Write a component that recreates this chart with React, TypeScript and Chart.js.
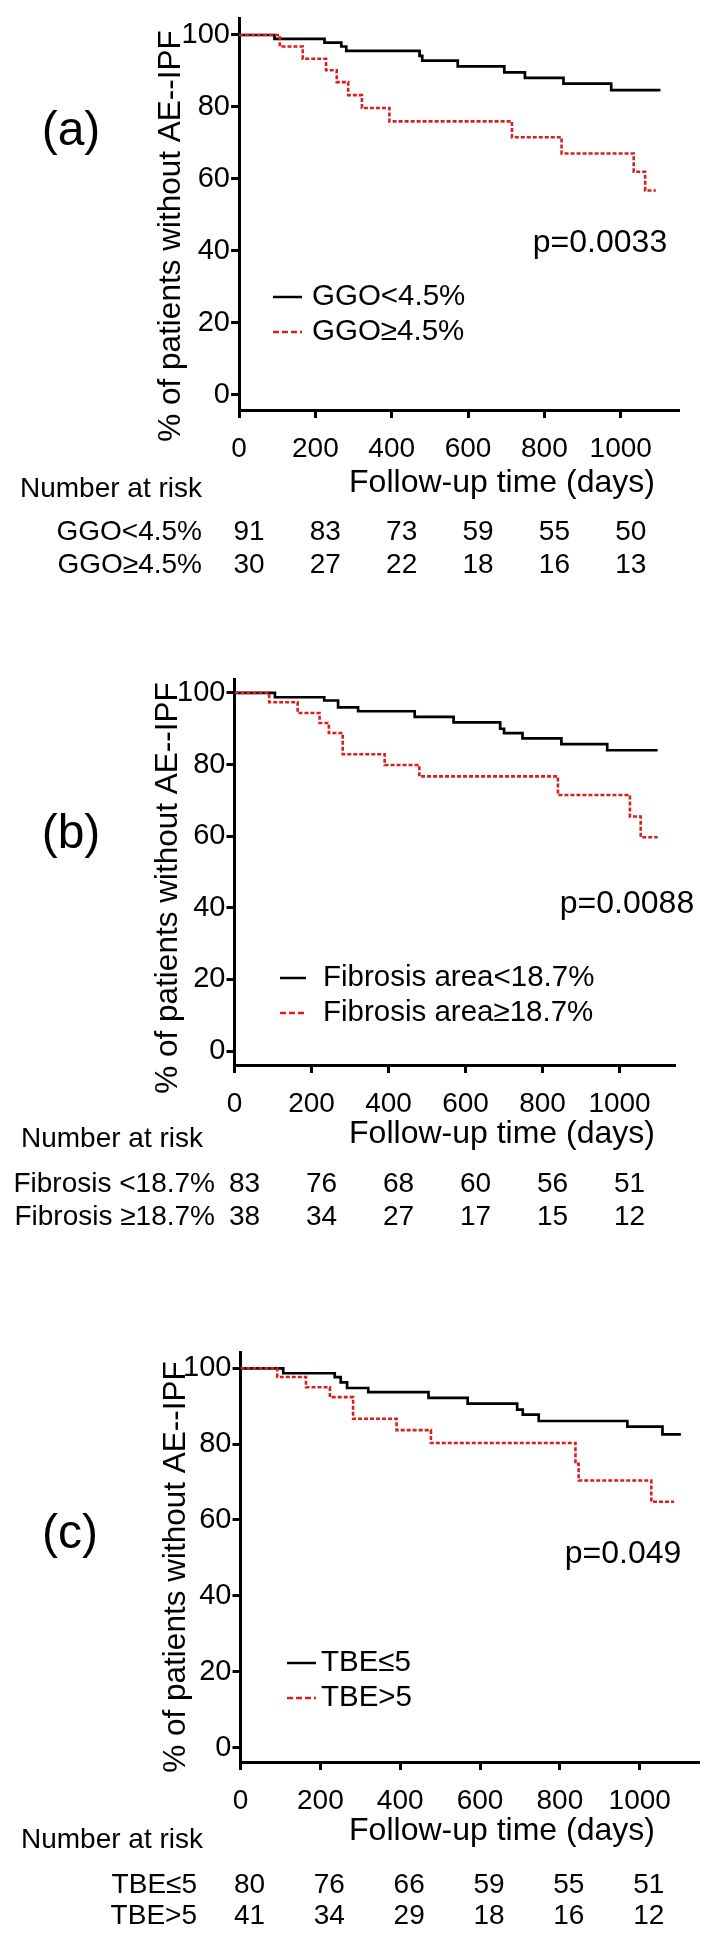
import React, { useEffect, useRef } from 'react';
import { Chart, registerables } from 'chart.js';

Chart.register(...registerables);

// ---------- shared axis values ----------
const xTickValues = [0, 200, 400, 600, 800, 1000];
const yTickValues = [0, 20, 40, 60, 80, 100];
const riskTimes = [0, 200, 400, 600, 800, 1000];

// ---------- panel (a): GGO ----------
const aLowTimes = [0, 93, 224, 268, 281, 473, 480, 573, 695, 749, 850, 975, 1104];
const aLowSurv = [100, 98.9, 97.9, 96.8, 95.6, 94.2, 92.9, 91.3, 89.6, 88.1, 86.5, 84.7, 84.7];
const aHighTimes = [0, 107, 167, 228, 256, 286, 322, 394, 715, 845, 1034, 1064, 1092];
const aHighSurv = [100, 96.8, 93.4, 90.2, 86.9, 83.3, 79.7, 76.0, 71.6, 67.1, 62.0, 56.8, 56.8];
const aLegend = ['GGO<4.5%', 'GGO≥4.5%'];
const aRiskLabels = ['GGO<4.5%', 'GGO≥4.5%'];
const aRiskLow = [91, 83, 73, 59, 55, 50];
const aRiskHigh = [30, 27, 22, 18, 16, 13];
const aPValue = 'p=0.0033';

// ---------- panel (b): fibrosis area ----------
const bLowTimes = [0, 105, 233, 269, 321, 468, 569, 690, 700, 748, 849, 968, 1099];
const bLowSurv = [100, 98.8, 97.9, 96.0, 94.9, 93.3, 91.8, 90.0, 88.8, 87.3, 85.7, 84.0, 84.0];
const bHighTimes = [0, 90, 164, 221, 245, 281, 390, 480, 840, 1027, 1055, 1099];
const bHighSurv = [100, 97.4, 94.4, 91.6, 88.8, 82.9, 79.9, 76.7, 71.5, 65.5, 59.7, 59.7];
const bLegend = ['Fibrosis area<18.7%', 'Fibrosis area≥18.7%'];
const bRiskLabels = ['Fibrosis <18.7%', 'Fibrosis ≥18.7%'];
const bRiskLow = [83, 76, 68, 60, 56, 51];
const bRiskHigh = [38, 34, 27, 17, 15, 12];
const bPValue = 'p=0.0088';

// ---------- panel (c): TBE ----------
const cLowTimes = [0, 107, 236, 251, 267, 320, 471, 569, 693, 707, 747, 969, 1057, 1103];
const cLowSurv = [100, 98.7, 97.7, 96.3, 94.8, 93.7, 92.2, 90.7, 89.1, 87.8, 86.1, 84.6, 82.6, 82.6];
const cHighTimes = [0, 92, 164, 224, 282, 391, 477, 839, 847, 1029, 1086];
const cHighSurv = [100, 97.7, 95.0, 92.4, 86.7, 83.7, 80.3, 74.8, 70.4, 64.8, 64.8];
const cLegend = ['TBE≤5', 'TBE>5'];
const cRiskLabels = ['TBE≤5', 'TBE>5'];
const cRiskLow = [80, 76, 66, 59, 55, 51];
const cRiskHigh = [41, 34, 29, 18, 16, 12];
const cPValue = 'p=0.049';

const yTitle = '% of patients without AE--IPF';
const xTitle = 'Follow-up time (days)';
const riskHeader = 'Number at risk';

// ---------- styling / layout ----------
const W = 719;
const FONT = "'Liberation Sans', Arial, Helvetica, sans-serif";
const BLACK = '#000000';
const RED = '#d81e1e';

type Layout = {
  top: number; height: number;
  area: { left: number; right: number; top: number; bottom: number };
  xMax: number; yMin: number; yMax: number;
  tag: { text: string; x: number; y: number };
  yTitle: { x: number; y: number };
  xTitle: { x: number; y: number };
  nar: { x: number; y: number };
  rowRight: number; rowY: number[]; numOffset: number;
  p: { x: number; y: number };
  legend: { x1: number; x2: number; tx: number; y: number[] };
};

type Panel = {
  layout: Layout;
  lowTimes: number[]; lowSurv: number[];
  highTimes: number[]; highSurv: number[];
  legend: string[]; riskLabels: string[];
  riskLow: number[]; riskHigh: number[]; pValue: string;
};

const panels: Panel[] = [
  {
    layout: {
      top: 0, height: 630,
      area: { left: 239, right: 678, top: 18, bottom: 410 },
      xMax: 1150, yMin: -4.17, yMax: 104.72,
      tag: { text: '(a)', x: 71, y: 132 },
      yTitle: { x: 180, y: 236 },
      xTitle: { x: 502, y: 492 },
      nar: { x: 20, y: 497 },
      rowRight: 202, rowY: [540, 573], numOffset: 10,
      p: { x: 600, y: 252 },
      legend: { x1: 273, x2: 302, tx: 312, y: [297, 332] },
    },
    lowTimes: aLowTimes, lowSurv: aLowSurv, highTimes: aHighTimes, highSurv: aHighSurv,
    legend: aLegend, riskLabels: aRiskLabels, riskLow: aRiskLow, riskHigh: aRiskHigh, pValue: aPValue,
  },
  {
    layout: {
      top: 630, height: 630,
      area: { left: 234.5, right: 674.6, top: 49, bottom: 435 },
      xMax: 1143, yMin: -3.9, yMax: 103.9,
      tag: { text: '(b)', x: 71, y: 205 },
      yTitle: { x: 177, y: 258 },
      xTitle: { x: 502, y: 513 },
      nar: { x: 21, y: 517 },
      rowRight: 215, rowY: [562, 595], numOffset: 10,
      p: { x: 627, y: 283 },
      legend: { x1: 280, x2: 306, tx: 323, y: [348, 383] },
    },
    lowTimes: bLowTimes, lowSurv: bLowSurv, highTimes: bHighTimes, highSurv: bHighSurv,
    legend: bLegend, riskLabels: bRiskLabels, riskLow: bRiskLow, riskHigh: bRiskHigh, pValue: bPValue,
  },
  {
    layout: {
      top: 1260, height: 684,
      area: { left: 240.5, right: 698, top: 92, bottom: 502 },
      xMax: 1146, yMin: -3.82, yMax: 104.3,
      tag: { text: '(c)', x: 70, y: 275 },
      yTitle: { x: 185, y: 307 },
      xTitle: { x: 502, y: 580 },
      nar: { x: 21, y: 588 },
      rowRight: 197, rowY: [633, 664], numOffset: 9,
      p: { x: 623, y: 303 },
      legend: { x1: 287, x2: 316, tx: 321, y: [403, 438] },
    },
    lowTimes: cLowTimes, lowSurv: cLowSurv, highTimes: cHighTimes, highSurv: cHighSurv,
    legend: cLegend, riskLabels: cRiskLabels, riskLow: cRiskLow, riskHigh: cRiskHigh, pValue: cPValue,
  },
];

const toPoints = (t: number[], s: number[]) => t.map((x, i) => ({ x, y: s[i] }));

function makeOverlay(panel: Panel) {
  const L = panel.layout;
  return {
    id: 'kmOverlay',
    afterDraw(chart: any) {
      const ctx: CanvasRenderingContext2D = chart.ctx;
      const xs = chart.scales.x;
      const ys = chart.scales.y;
      const ca = chart.chartArea;
      ctx.save();
      ctx.fillStyle = BLACK;

      // y tick labels
      ctx.font = `29px ${FONT}`;
      ctx.textAlign = 'right';
      ctx.textBaseline = 'middle';
      yTickValues.forEach((v) => ctx.fillText(String(v), ca.left - 9, ys.getPixelForValue(v)));

      // x tick labels
      ctx.font = `28px ${FONT}`;
      ctx.textAlign = 'center';
      ctx.textBaseline = 'alphabetic';
      xTickValues.forEach((v) => ctx.fillText(String(v), xs.getPixelForValue(v), ca.bottom + 47));

      // x title
      ctx.font = `32px ${FONT}`;
      ctx.fillText(xTitle, L.xTitle.x, L.xTitle.y);

      // y title (rotated)
      ctx.save();
      ctx.translate(L.yTitle.x, L.yTitle.y);
      ctx.rotate(-Math.PI / 2);
      ctx.font = `31.5px ${FONT}`;
      ctx.textAlign = 'center';
      ctx.textBaseline = 'alphabetic';
      ctx.fillText(yTitle, 0, 0);
      ctx.restore();

      // panel tag
      ctx.font = `48px ${FONT}`;
      ctx.textAlign = 'center';
      ctx.textBaseline = 'middle';
      ctx.fillText(L.tag.text, L.tag.x, L.tag.y);

      // p value
      ctx.font = `32px ${FONT}`;
      ctx.textAlign = 'center';
      ctx.textBaseline = 'alphabetic';
      ctx.fillText(panel.pValue, L.p.x, L.p.y);

      // legend
      const colors = [BLACK, RED];
      ctx.font = `29.5px ${FONT}`;
      ctx.textAlign = 'left';
      ctx.textBaseline = 'middle';
      panel.legend.forEach((txt, i) => {
        const y = L.legend.y[i];
        ctx.beginPath();
        ctx.strokeStyle = colors[i];
        ctx.lineWidth = 2.5;
        ctx.setLineDash(i === 1 ? [6, 3] : []);
        ctx.moveTo(L.legend.x1, y);
        ctx.lineTo(L.legend.x2, y);
        ctx.stroke();
        ctx.setLineDash([]);
        ctx.fillStyle = BLACK;
        ctx.fillText(txt, L.legend.tx, y);
      });

      // risk table
      ctx.font = `28px ${FONT}`;
      ctx.textAlign = 'left';
      ctx.textBaseline = 'alphabetic';
      ctx.fillText(riskHeader, L.nar.x, L.nar.y);
      const rows = [panel.riskLow, panel.riskHigh];
      rows.forEach((vals, r) => {
        const y = L.rowY[r];
        ctx.textAlign = 'right';
        ctx.fillText(panel.riskLabels[r], L.rowRight, y);
        ctx.textAlign = 'center';
        vals.forEach((n, k) => {
          ctx.fillText(String(n), xs.getPixelForValue(riskTimes[k]) + L.numOffset, y);
        });
      });
      ctx.restore();
    },
  };
}

function KMPanel({ panel }: { panel: Panel }) {
  const ref = useRef<HTMLCanvasElement | null>(null);
  useEffect(() => {
    const canvas = ref.current;
    if (!canvas) return;
    const L = panel.layout;
    const axisCommon = {
      type: 'linear' as const,
      grid: {
        display: true,
        drawOnChartArea: false,
        drawTicks: true,
        tickLength: 8,
        lineWidth: 3,
        color: BLACK,
      },
      border: { display: true, width: 3, color: BLACK },
      ticks: { display: false },
    };
    const chart = new Chart(canvas, {
      type: 'line',
      data: {
        datasets: [
          {
            label: panel.legend[0],
            data: toPoints(panel.lowTimes, panel.lowSurv),
            borderColor: BLACK,
            borderWidth: 2.7,
            stepped: 'before',
            pointRadius: 0,
            fill: false,
            order: 1,
          },
          {
            label: panel.legend[1],
            data: toPoints(panel.highTimes, panel.highSurv),
            borderColor: RED,
            borderWidth: 2.6,
            borderDash: [4, 2],
            stepped: 'before',
            pointRadius: 0,
            fill: false,
            order: 0,
          },
        ],
      },
      options: {
        responsive: false,
        animation: false,
        devicePixelRatio: 1,
        layout: {
          padding: { left: 0, top: L.area.top, right: W - L.area.right, bottom: 0 },
        },
        plugins: { legend: { display: false }, tooltip: { enabled: false } },
        scales: {
          x: {
            ...axisCommon,
            min: 0,
            max: L.xMax,
            afterBuildTicks: (s: any) => {
              s.ticks = xTickValues.map((v) => ({ value: v }));
            },
            afterFit: (s: any) => {
              s.height = L.height - L.area.bottom;
            },
          },
          y: {
            ...axisCommon,
            min: L.yMin,
            max: L.yMax,
            afterBuildTicks: (s: any) => {
              s.ticks = yTickValues.map((v) => ({ value: v }));
            },
            afterFit: (s: any) => {
              s.width = L.area.left;
            },
          },
        },
      } as any,
      plugins: [makeOverlay(panel)],
    });
    return () => chart.destroy();
  }, [panel]);
  return (
    <canvas
      ref={ref}
      width={W}
      height={panel.layout.height}
      style={{ position: 'absolute', left: 0, top: panel.layout.top, display: 'block' }}
    />
  );
}

export default function App() {
  return (
    <div
      style={{
        position: 'absolute',
        left: 0,
        top: 0,
        width: W,
        height: 1944,
        background: '#ffffff',
        overflow: 'hidden',
      }}
    >
      {panels.map((p, i) => (
        <KMPanel key={i} panel={p} />
      ))}
    </div>
  );
}
